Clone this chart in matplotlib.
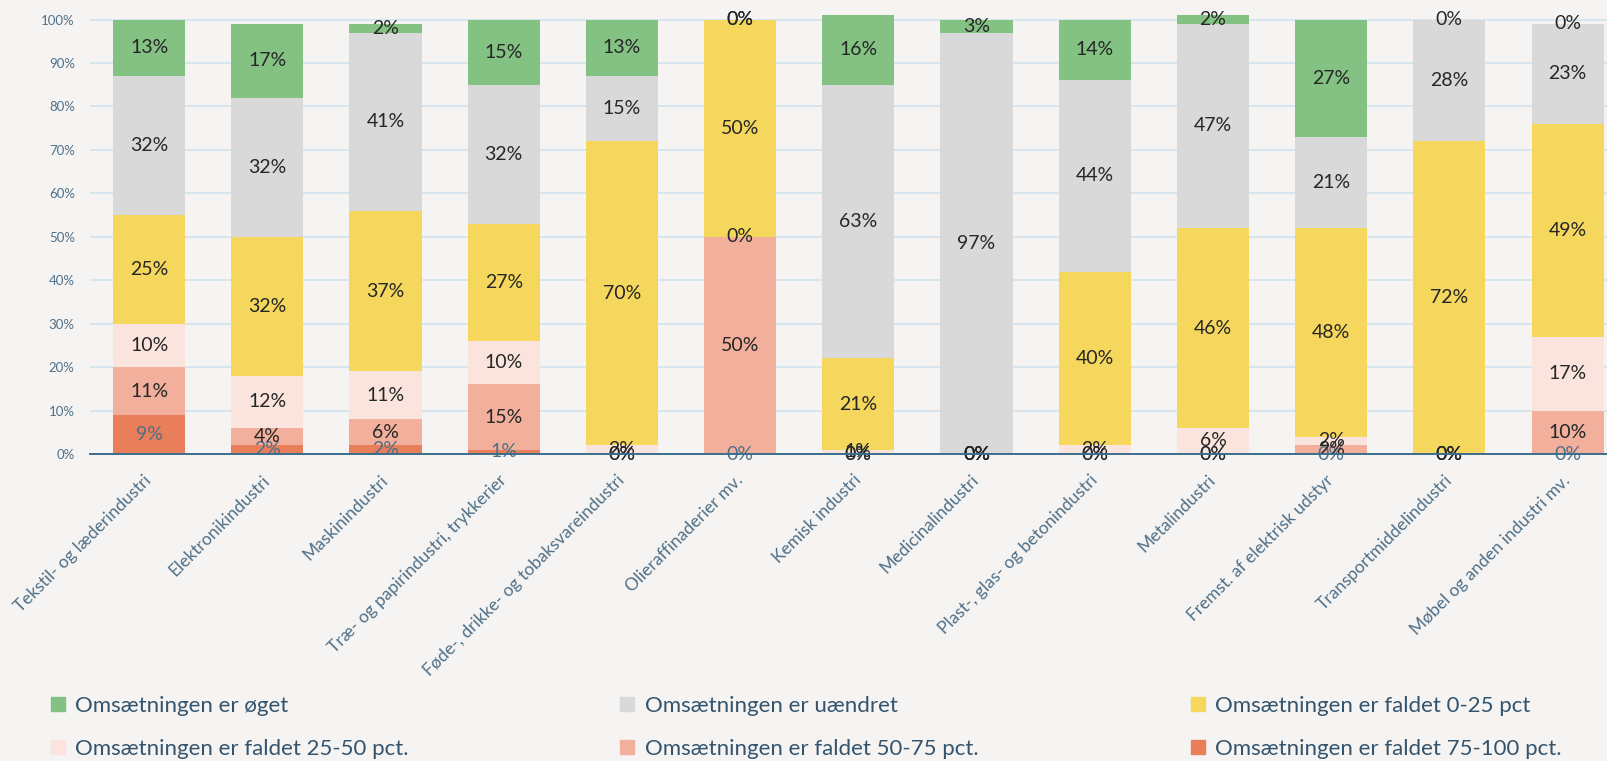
import matplotlib
matplotlib.use("Agg")
import matplotlib.pyplot as plt
from matplotlib.lines import Line2D
import numpy as np

plt.rcParams['font.family'] = ['Lato', 'DejaVu Sans']

categories = [
    "Tekstil- og læderindustri", "Elektronikindustri", "Maskinindustri",
    "Træ- og papirindustri, trykkerier", "Føde-, drikke- og tobaksvareindustri",
    "Olieraffinaderier mv.", "Kemisk industri", "Medicinalindustri",
    "Plast-, glas- og betonindustri", "Metalindustri",
    "Fremst. af elektrisk udstyr", "Transportmiddelindustri",
    "Møbel og anden industri mv.",
]

# andel virksomheder i pct., nederst -> øverst i søjlen
fald_75_100 = [9, 2, 2, 1, 0, 0, 0, 0, 0, 0, 0, 0, 0]
fald_50_75 = [11, 4, 6, 15, 0, 50, 0, 0, 0, 0, 2, 0, 10]
fald_25_50 = [10, 12, 11, 10, 2, 0, 1, 0, 2, 6, 2, 0, 17]
fald_0_25 = [25, 32, 37, 27, 70, 50, 21, 0, 40, 46, 48, 72, 49]
uaendret = [32, 32, 41, 32, 15, 0, 63, 97, 44, 47, 21, 28, 23]
oeget = [13, 17, 2, 15, 13, 0, 16, 3, 14, 2, 27, 0, 0]

series = [
    ("Omsætningen er faldet 75-100 pct.", fald_75_100, "#e97e5b"),
    ("Omsætningen er faldet 50-75 pct.", fald_50_75, "#f2b09c"),
    ("Omsætningen er faldet 25-50 pct.", fald_25_50, "#fbe4de"),
    ("Omsætningen er faldet 0-25 pct", fald_0_25, "#f5d75e"),
    ("Omsætningen er uændret", uaendret, "#d9d9d9"),
    ("Omsætningen er øget", oeget, "#84c283"),
]

bg = "#f5f4f2"
tick_col = "#4f7089"
legend_col = "#34546e"

fig = plt.figure(figsize=(16.08, 7.61), dpi=100, facecolor=bg)
ax = fig.add_axes([0.056, 0.4034, 0.9556, 0.5795])
ax.set_facecolor(bg)

x = np.arange(len(categories))
bottom = np.zeros(len(categories))
for i, (name, vals, col) in enumerate(series):
    vals = np.array(vals, dtype=float)
    bars = ax.bar(x, vals, 0.61, bottom=bottom, color=col, zorder=2, label=name)
    lab_col = tick_col if i == 0 else "#262626"
    ax.bar_label(bars, labels=[f"{int(v)}%" for v in vals], label_type='center',
                 fontsize=14, color=lab_col, zorder=3)
    bottom += vals

ax.set_xlim(-0.5, len(categories) - 0.5)
ax.set_ylim(0, 101.5)
ax.set_yticks(np.arange(0, 101, 10))
ax.set_yticklabels([f"{v}%" for v in range(0, 101, 10)])
ax.yaxis.grid(True, color="#cfe3ee", linewidth=1.1, zorder=0)
ax.set_axisbelow(True)
for s in ["top", "right", "left"]:
    ax.spines[s].set_visible(False)
ax.spines["bottom"].set_color("#3a6d8c")
ax.spines["bottom"].set_linewidth(1.4)
ax.spines["bottom"].set_zorder(4)

ax.tick_params(axis='y', length=0, pad=11, labelsize=9.5, labelcolor=tick_col)
ax.tick_params(axis='x', length=0, pad=17, labelsize=12.5, labelcolor=tick_col)
ax.set_xticks(x)
ax.set_xticklabels(categories, rotation=45, ha='right', va='center',
                   rotation_mode='anchor')

# legend in three columns, placed as in the original
order = [5, 2, 4, 1, 3, 0]
cols_x = [0.031, 0.385, 0.740]
for k, cx in enumerate(cols_x):
    idx = order[2 * k:2 * k + 2]
    handles = [Line2D([], [], marker='s', ls='', markersize=10,
                      color=series[j][2]) for j in idx]
    labels = [series[j][0] for j in idx]
    fig.legend(handles, labels, loc='upper left', bbox_to_anchor=(cx, 0.086),
               bbox_transform=fig.transFigure, frameon=False, fontsize=16,
               labelcolor=legend_col, handletextpad=0.45, labelspacing=1.05,
               borderaxespad=0, borderpad=0, handlelength=0.7)

fig.savefig("out.png", dpi=100, facecolor=bg)
